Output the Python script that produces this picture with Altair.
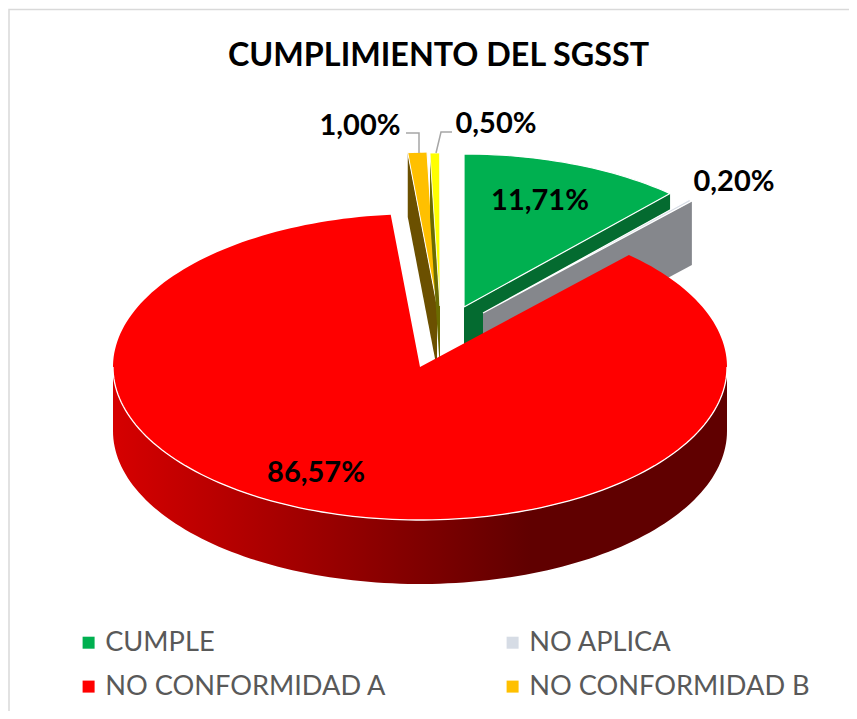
import math
import altair as alt
import pandas as pd

names = ["CUMPLE", "NO APLICA", "NO CONFORMIDAD A", "NO CONFORMIDAD B", "NO CONFORMIDAD C"]
values = [11.71, 0.20, 86.57, 1.00, 0.50]
labels = ["11,71%", "0,20%", "86,57%", "1,00%", "0,50%"]
legend_names = names[:4]
legend_colors = ["#00B050", "#D6DCE5", "#FF0000", "#FFC000"]
top_colors = ["#00B050", "#D6DCE5", "#FF0000", "#FFC000", "#FFFF00"]
side_colors = ["#046B30", "#85878C", "#600000", "#6B5000", "#6B6B00"]

# layout (page pixels)
W, H = 841, 703
RX, RY, DEPTH = 307, 153, 64
apex = [(464, 307), (483, 313), (420, 367), (437, 305), (440, 306)]
FONT = "Lato"

angles = [0.0]
for v in values:
    angles.append(angles[-1] + v * 3.6)


def rim(i, deg, drop=0):
    r = math.radians(deg)
    return (apex[i][0] + RX * math.sin(r), apex[i][1] - RY * math.cos(r) + drop)


def arc(i, a, b, drop=0):
    n = max(2, int(abs(b - a) / 1.5) + 1)
    return [rim(i, a + (b - a) * k / n, drop) for k in range(n + 1)]


def top_poly(i):
    return [apex[i]] + arc(i, angles[i], angles[i + 1]) + [apex[i]]


def cut_poly(i, deg):
    e, e2 = rim(i, deg), rim(i, deg, DEPTH)
    a = apex[i]
    return [a, e, e2, (a[0], a[1] + DEPTH), a]


def rim_poly(i, a, b):
    up = arc(i, a, b)
    down = arc(i, a, b, DEPTH)
    return up + down[::-1] + [up[0]]


X = alt.X("x:Q", axis=None, scale=alt.Scale(domain=[8, 8 + W], range=[0, W]))
Y = alt.Y("y:Q", axis=None, scale=alt.Scale(domain=[8 + H, 8], range=[H, 0]))


def poly(points, fill, stroke=None, sw=0.0):
    df = pd.DataFrame([{"x": p[0], "y": p[1], "i": k} for k, p in enumerate(points)])
    kw = dict(fill=fill, strokeWidth=sw, strokeJoin="round")
    kw["stroke"] = stroke if stroke else "transparent"
    return alt.Chart(df).mark_line(**kw).encode(x=X, y=Y, order=alt.Order("i:Q"))


def path(points, color, sw):
    df = pd.DataFrame([{"x": p[0], "y": p[1], "i": k} for k, p in enumerate(points)])
    return alt.Chart(df).mark_line(stroke=color, strokeWidth=sw).encode(x=X, y=Y, order=alt.Order("i:Q"))


red_grad = alt.LinearGradient(
    gradient="linear", x1=0, x2=1, y1=0, y2=0,
    stops=[alt.GradientStop(offset=0, color="#D60000"),
           alt.GradientStop(offset=0.68, color="#600000"),
           alt.GradientStop(offset=1, color="#600000")],
)

layers = [
    # frame
    path([(9, 711), (9, 9.5), (849, 9.5)], "#D9D9D9", 1.5),
    # green
    poly(cut_poly(0, angles[1]), side_colors[0]),
    poly(top_poly(0), top_colors[0], "white", 1.2),
    # grey
    poly(cut_poly(1, angles[2]), side_colors[1]),
    poly(top_poly(1), top_colors[1], "white", 1.2),
    # orange
    poly(cut_poly(3, angles[3]), side_colors[3]),
    poly(top_poly(3), top_colors[3], "white", 1.0),
    # yellow
    poly(cut_poly(4, angles[4]), side_colors[4]),
    poly(top_poly(4), top_colors[4], "white", 0.8),
    # red rim + top
    poly(rim_poly(2, 90, 270), red_grad),
    poly(top_poly(2), top_colors[2]),
    path(arc(2, 90, 270), "white", 1.3),
    # leaders
    path([(406, 133), (419, 133), (419, 153)], "#A6A6A6", 1.5),
    path([(452, 132), (441, 132), (436, 153)], "#A6A6A6", 1.5),
]

label_df = pd.DataFrame({
    "label": labels,
    "x": [540, 734, 316, 360, 496],
    "y": [201, 182, 473, 126, 124],
})
layers.append(
    alt.Chart(label_df).mark_text(font=FONT, fontWeight="bold", fontSize=29, color="black",
                                  align="center", baseline="middle")
    .encode(x=X, y=Y, text="label:N")
)

legend_df = pd.DataFrame({"name": legend_names, "x": [0] * 4, "y": [0] * 4})
layers.append(
    alt.Chart(legend_df).transform_filter("false").mark_square(size=144, opacity=1)
    .encode(
        x=X, y=Y,
        color=alt.Color(
            "name:N",
            scale=alt.Scale(domain=legend_names, range=legend_colors),
            legend=alt.Legend(
                title=None, orient="none", legendX=67, legendY=621, columns=2, direction="horizontal",
                symbolType="square", symbolSize=144, symbolStrokeWidth=0, symbolOpacity=1,
                labelFont=FONT, labelFontSize=27.2, labelColor="#595959", labelLimit=400,
                columnPadding=112, rowPadding=16, labelOffset=3, symbolOffset=0,
            ),
        ),
    )
)

chart = (
    alt.layer(*layers)
    .properties(
        width=W, height=H,
        padding=0,
        autosize=alt.AutoSizeParams(type="none"),
        title=alt.TitleParams(
            "CUMPLIMIENTO DEL SGSST", font=FONT, fontSize=32.3, fontWeight="bold", color="black",
            anchor="start", frame="group", dx=220, dy=99, baseline="bottom", offset=0,
        ),
    )
    .configure_view(stroke=None)
)

chart.save("out.html", embed_options={"renderer": "svg", "actions": False})
